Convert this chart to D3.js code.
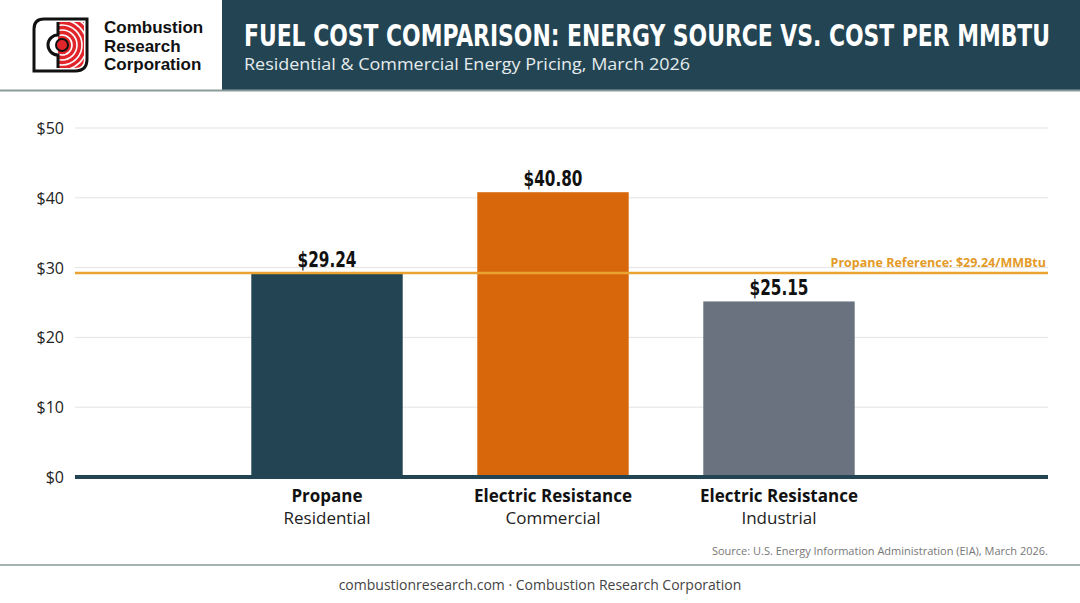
<!DOCTYPE html><html><head><meta charset="utf-8">
<script src="https://cdn.jsdelivr.net/npm/d3@7"></script>
<style>body{margin:0;background:#fff}svg{display:block}</style></head><body>
<svg id="c" width="1080" height="603"></svg>
<script>
const categories=["Propane","Electric Resistance","Electric Resistance"];
const subLabels=["Residential","Commercial","Industrial"];
const values=[29.24,40.80,25.15];
const barColors=["#234553","#d8670b","#6a7280"];
const yTicks=[0,10,20,30,40,50];
const refValue=29.24;
const refLabel="Propane Reference: $29.24/MMBtu";

const svg=d3.select("#c");
const cond="'DejaVu Sans Condensed','DejaVu Sans',sans-serif";
// header
svg.append("rect").attr("x",222).attr("y",0).attr("width",858).attr("height",90).attr("fill","#234553");
svg.append("line").attr("x1",0).attr("x2",1080).attr("y1",90.5).attr("y2",90.5).attr("stroke","#8a9a9a").attr("stroke-width",2);
svg.append("text").attr("x",244).attr("y",46).attr("fill","#fff").attr("font-family",cond).attr("font-weight","bold").attr("font-size",31).attr("textLength",806).attr("lengthAdjust","spacingAndGlyphs").text("FUEL COST COMPARISON: ENERGY SOURCE VS. COST PER MMBTU");
svg.append("text").attr("x",244).attr("y",70).attr("fill","#e6ecee").attr("font-family","'Open Sans',sans-serif").attr("font-size",17).attr("textLength",446).attr("lengthAdjust","spacingAndGlyphs").text("Residential & Commercial Energy Pricing, March 2026");
// logo
const lg=svg.append("g").attr("transform","translate(34,19)");
lg.append("path").attr("d","M10,0 H53 V40 Q53,52 41,52 H0 V10 Q0,0 10,0Z").attr("fill","#fff").attr("stroke","#111").attr("stroke-width",3);
const cp=lg.append("clipPath").attr("id","lc");cp.append("path").attr("d","M24,3 H50 V40 Q50,49 41,49 H24 Z");
const rg=lg.append("g").attr("clip-path","url(#lc)");
rg.append("rect").attr("x",24).attr("y",3).attr("width",26).attr("height",46).attr("fill","#e0262b");
[30,25,20,15,10].forEach((r,i)=>rg.append("circle").attr("cx",28).attr("cy",26).attr("r",r).attr("fill","none").attr("stroke","#fff").attr("stroke-width",1.6));
lg.append("path").attr("d","M24,3 V16 A10,10 0 0 0 24,36 V49").attr("fill","none").attr("stroke","#111").attr("stroke-width",3);
lg.append("circle").attr("cx",28).attr("cy",26).attr("r",6).attr("fill","#e0262b").attr("stroke","#111").attr("stroke-width",2);
["Combustion","Research","Corporation"].forEach((t,i)=>svg.append("text").attr("x",104).attr("y",33+i*18.5).attr("font-family","'Liberation Sans',Arial,sans-serif").attr("font-weight","bold").attr("font-size",17).attr("fill","#111").text(t));
// scales
const y=d3.scaleLinear().domain([0,50]).range([477,128]);
const x=d3.scaleBand().domain(d3.range(values.length)).range([214,892]).paddingInner(0.33).paddingOuter(0.165);
// grid
svg.append("g").selectAll("line").data(yTicks).join("line").attr("x1",75).attr("x2",1048).attr("y1",d=>y(d)).attr("y2",d=>y(d)).attr("stroke","#e3e3e3");
svg.append("g").selectAll("text").data(yTicks).join("text").attr("x",64).attr("y",d=>y(d)+6).attr("text-anchor","end").attr("font-family","'Open Sans',sans-serif").attr("font-size",16).attr("fill","#222").text(d=>"$"+d);
// bars
svg.append("g").selectAll("rect").data(values).join("rect").attr("x",(d,i)=>x(i)).attr("width",x.bandwidth()).attr("y",d=>y(d)).attr("height",d=>y(0)-y(d)).attr("fill",(d,i)=>barColors[i]);
svg.append("line").attr("x1",75).attr("x2",1048).attr("y1",y(0)).attr("y2",y(0)).attr("stroke","#234553").attr("stroke-width",4);
// ref
svg.append("line").attr("x1",75).attr("x2",1048).attr("y1",y(refValue)).attr("y2",y(refValue)).attr("stroke","#eaa230").attr("stroke-width",2.5);
svg.append("text").attr("x",1046).attr("y",y(refValue)-6).attr("text-anchor","end").attr("font-family","'Open Sans',sans-serif").attr("font-weight","bold").attr("font-size",12.5).attr("fill","#e39a26").text(refLabel);
// value labels
svg.append("g").selectAll("text").data(values).join("text").attr("x",(d,i)=>x(i)+x.bandwidth()/2).attr("y",d=>y(d)-6).attr("text-anchor","middle").attr("font-family",cond).attr("font-weight","bold").attr("font-size",22).attr("fill","#111").attr("textLength",59).attr("lengthAdjust","spacingAndGlyphs").text(d=>"$"+d.toFixed(2));
// category labels
svg.append("g").selectAll("text").data(categories).join("text").attr("x",(d,i)=>x(i)+x.bandwidth()/2).attr("y",502).attr("text-anchor","middle").attr("font-family","'Open Sans',sans-serif").attr("font-weight","bold").attr("font-size",17).attr("fill","#111").text(d=>d);
svg.append("g").selectAll("text").data(subLabels).join("text").attr("x",(d,i)=>x(i)+x.bandwidth()/2).attr("y",524).attr("text-anchor","middle").attr("font-family","'Open Sans',sans-serif").attr("font-size",17).attr("fill","#222").text(d=>d);
// source/footer
svg.append("text").attr("x",1048).attr("y",555).attr("text-anchor","end").attr("font-family","'Open Sans',sans-serif").attr("font-size",11).attr("fill","#777").text("Source: U.S. Energy Information Administration (EIA), March 2026.");
svg.append("line").attr("x1",0).attr("x2",1080).attr("y1",565).attr("y2",565).attr("stroke","#8a9a9a").attr("stroke-width",1.5);
svg.append("text").attr("x",540).attr("y",590).attr("text-anchor","middle").attr("font-family","'Open Sans',sans-serif").attr("font-size",14).attr("fill","#444").text("combustionresearch.com · Combustion Research Corporation");
</script></body></html>
